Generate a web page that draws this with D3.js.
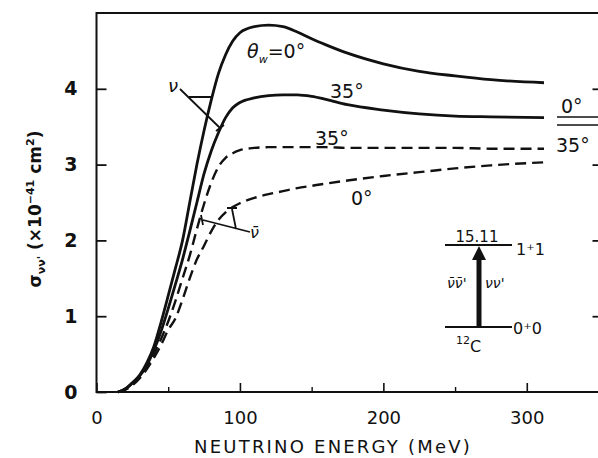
<!DOCTYPE html>
<html><head><meta charset="utf-8">
<script src="https://cdn.jsdelivr.net/npm/d3@7"></script>
<style>
html,body{margin:0;padding:0;background:#fff;}
svg{display:block;}
text{font-family:"DejaVu Sans",sans-serif;fill:#111;}
</style></head>
<body><svg id="c" width="598" height="458"></svg>
<script>
// ---- data ----
const energy = [15,20,25,30,35,40,45,50,55,60,65,70,75,80,85,90,95,100,110,120,130,140,150,160,175,200,225,250,275,312];
const nuSolid0  = [0,0.04,0.12,0.22,0.38,0.6,0.92,1.27,1.63,2.0,2.5,3.0,3.45,3.85,4.2,4.45,4.63,4.74,4.82,4.84,4.82,4.75,4.66,4.58,4.47,4.33,4.23,4.17,4.12,4.08];
const nuSolid35 = [0,0.04,0.12,0.21,0.35,0.55,0.8,1.1,1.42,1.75,2.12,2.5,2.88,3.18,3.42,3.62,3.75,3.82,3.88,3.91,3.92,3.92,3.9,3.86,3.79,3.72,3.67,3.64,3.63,3.62];
const nubarDash35 = [0,0.03,0.1,0.2,0.33,0.5,0.7,0.93,1.2,1.5,1.8,2.15,2.48,2.76,2.97,3.09,3.15,3.19,3.22,3.23,3.23,3.23,3.23,3.23,3.22,3.22,3.22,3.22,3.21,3.21];
const nubarDash0  = [0,0.03,0.09,0.18,0.3,0.45,0.62,0.82,0.97,1.22,1.5,1.75,1.93,2.12,2.27,2.37,2.44,2.49,2.56,2.61,2.65,2.69,2.72,2.75,2.79,2.85,2.9,2.95,2.99,3.03];
const xMajorTicks = [0,100,200,300];
const xMinorTicks = [50,150,250];
const yTicks = [0,1,2,3,4];

const svg = d3.select("#c");
const x = d3.scaleLinear().domain([0,350]).range([96.5,598.5]);
const y = d3.scaleLinear().domain([0,5]).range([392,13]);

// frame
svg.append("path")
  .attr("d",`M${x(350)},${y(5)}H${x(0)}V${y(0)}H${x(350)}`)
  .attr("fill","none").attr("stroke","#111").attr("stroke-width",2);

// x axis ticks (inward)
const gx = svg.append("g").attr("transform",`translate(0,${y(0)})`)
  .call(d3.axisBottom(x).tickValues(xMajorTicks).tickSize(-9).tickPadding(0).tickFormat(d3.format("d")));
gx.select(".domain").remove();
gx.selectAll(".tick line").attr("stroke","#111").attr("stroke-width",1.6);
gx.selectAll(".tick text").attr("y",32).attr("font-size",18).attr("fill","#111").attr("dy",0);
const gxm = svg.append("g").attr("transform",`translate(0,${y(0)})`)
  .call(d3.axisBottom(x).tickValues(xMinorTicks).tickSize(-5).tickFormat(""));
gxm.select(".domain").remove();
gxm.selectAll(".tick line").attr("stroke","#111").attr("stroke-width",1.4);

// y axis ticks (inward)
const gy = svg.append("g").attr("transform",`translate(${x(0)},0)`)
  .call(d3.axisLeft(y).tickValues(yTicks).tickSize(-10).tickPadding(0).tickFormat(d3.format("d")));
gy.select(".domain").remove();
gy.selectAll(".tick line").attr("stroke","#111").attr("stroke-width",1.8);
gy.selectAll(".tick text").attr("x",-19).attr("font-size",19).attr("font-weight","bold").attr("fill","#111");
// right axis ticks
const gyr = svg.append("g").attr("transform",`translate(${x(350)},0)`)
  .call(d3.axisRight(y).tickValues(yTicks.slice(1)).tickSize(-6).tickFormat(""));
gyr.select(".domain").remove();
gyr.selectAll(".tick line").attr("stroke","#111").attr("stroke-width",1.8);

// curves
const line = d3.line().x((d,i)=>x(energy[i])).y(d=>y(d)).curve(d3.curveMonotoneX);
const series = [
  {v:nuSolid0, dash:null},
  {v:nuSolid35, dash:null},
  {v:nubarDash35, dash:"11,6"},
  {v:nubarDash0, dash:"11,6"}
];
svg.selectAll("path.curve").data(series).enter().append("path")
  .attr("class","curve")
  .attr("d",d=>line(d.v))
  .attr("fill","none").attr("stroke","#111")
  .attr("stroke-width",d=>d.dash?2.4:2.8)
  .attr("stroke-dasharray",d=>d.dash);

// axis title x
svg.append("text").attr("x",333).attr("y",453).attr("text-anchor","middle")
  .attr("font-size",18).attr("letter-spacing",2.2).text("NEUTRINO ENERGY (MeV)");

// axis title y
const yt = svg.append("text").attr("transform","translate(41,209) rotate(-90)")
  .attr("text-anchor","middle").attr("font-size",17).attr("font-weight","bold");
yt.append("tspan").text("σ");
yt.append("tspan").attr("font-size",11).attr("dy",4).text("νν'");
yt.append("tspan").attr("dy",-4).text(" (×10");
yt.append("tspan").attr("font-size",11).attr("dy",-7).text("−41");
yt.append("tspan").attr("dy",7).text(" cm");
yt.append("tspan").attr("font-size",11).attr("dy",-7).text("2");
yt.append("tspan").attr("dy",7).text(")");

// curve labels
const th = svg.append("text").attr("x",247).attr("y",58).attr("font-size",19).attr("font-style","italic");
th.append("tspan").text("θ");
th.append("tspan").attr("font-size",11).attr("dy",5).text("w");
th.append("tspan").attr("dy",-5).attr("font-style","normal").text("=0°");
svg.append("text").attr("x",330).attr("y",98).attr("font-size",19).text("35°");
svg.append("text").attr("x",315).attr("y",145).attr("font-size",19).text("35°");
svg.append("text").attr("x",351).attr("y",205).attr("font-size",19).text("0°");

// right-hand fraction label
svg.append("text").attr("x",561).attr("y",113).attr("font-size",19).text("0°");
svg.append("line").attr("x1",557).attr("x2",598).attr("y1",117).attr("y2",117).attr("stroke","#111").attr("stroke-width",1.6);
svg.append("line").attr("x1",557).attr("x2",598).attr("y1",125).attr("y2",125).attr("stroke","#111").attr("stroke-width",1.6);
svg.append("text").attr("x",556).attr("y",152).attr("font-size",19).text("35°");

// ν pointer
svg.append("text").attr("x",168).attr("y",92).attr("font-size",18).attr("font-style","italic").text("ν");
svg.append("path").attr("d","M180,89L220,128M189,97H213M216,131L224,125")
  .attr("fill","none").attr("stroke","#111").attr("stroke-width",1.8);
// ν̄ pointer
svg.append("text").attr("x",250).attr("y",238).attr("font-size",16).attr("font-style","italic").text("ν̄");
svg.append("path").attr("d","M250,232L203,220M201,215L203,225M236,229L232,209M227,208H237")
  .attr("fill","none").attr("stroke","#111").attr("stroke-width",1.8);

// level diagram inset
const inset = svg.append("g");
inset.append("line").attr("x1",445).attr("x2",512).attr("y1",245).attr("y2",245).attr("stroke","#111").attr("stroke-width",2);
inset.append("line").attr("x1",445).attr("x2",512).attr("y1",327).attr("y2",327).attr("stroke","#111").attr("stroke-width",2);
inset.append("line").attr("x1",479).attr("x2",479).attr("y1",327).attr("y2",258).attr("stroke","#111").attr("stroke-width",5);
inset.append("path").attr("d","M472,260L479,246L486,260Z").attr("fill","#111");
inset.append("text").attr("x",477).attr("y",242).attr("text-anchor","middle").attr("font-size",15).text("15.11");
inset.append("text").attr("x",516).attr("y",255).attr("font-size",16).text("1⁺1");
inset.append("text").attr("x",513).attr("y",334).attr("font-size",16).text("0⁺0");
const c12 = inset.append("text").attr("x",456).attr("y",352).attr("font-size",16);
c12.append("tspan").attr("font-size",11).attr("dy",-8).text("12");
c12.append("tspan").attr("dy",8).text("C");
inset.append("text").attr("x",447).attr("y",288).attr("font-size",14).attr("font-style","italic").text("ν̄ν̄'");
inset.append("text").attr("x",485).attr("y",288).attr("font-size",14).attr("font-style","italic").text("νν'");
</script></body></html>
